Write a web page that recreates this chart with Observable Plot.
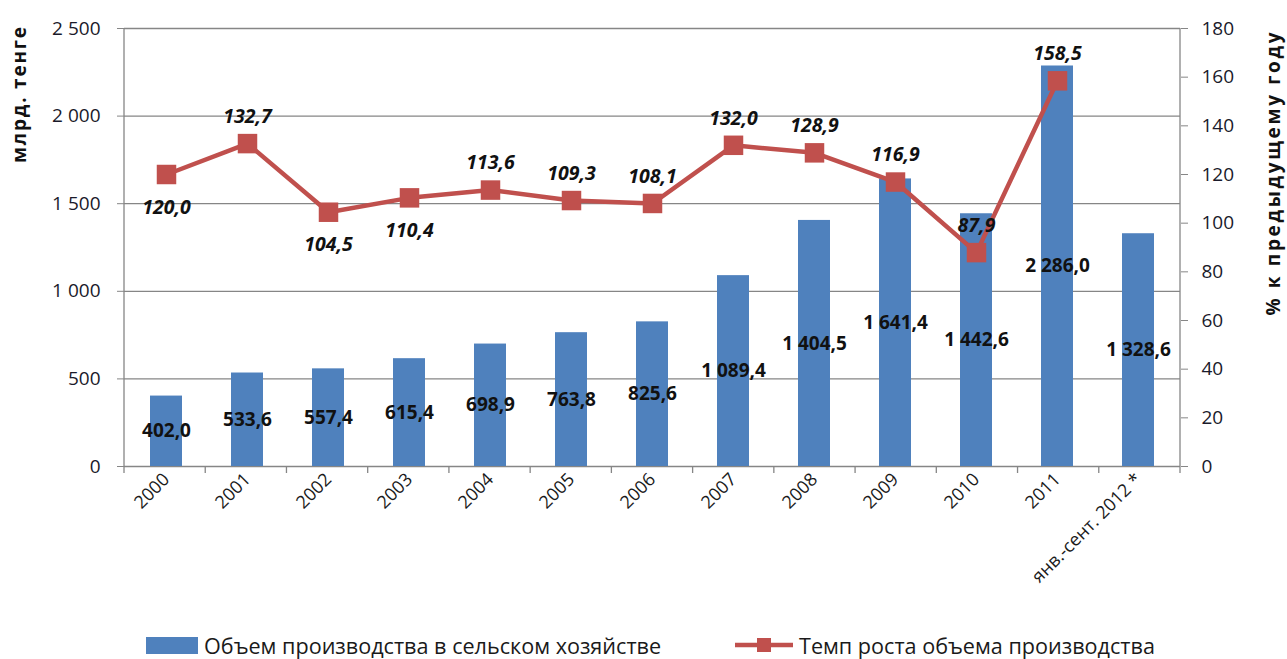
<!DOCTYPE html>
<html><head><meta charset="utf-8">
<script src="https://cdn.jsdelivr.net/npm/d3@7"></script>
<script src="https://cdn.jsdelivr.net/npm/@observablehq/plot@0.6"></script>
<style>
body{margin:0;background:#fff;font-family:"Open Sans",sans-serif;}
#wrap{position:relative;width:1287px;height:659px;}
#legend{position:absolute;left:0;top:630px;width:1287px;height:30px;font-size:21.6px;color:#1a1a1a;}
.li{position:absolute;top:0;display:flex;align-items:center;height:30px;white-space:nowrap;}
</style></head>
<body><div id="wrap"><div id="chart"></div><div id="legend"></div></div>
<script>
const categories = ["2000","2001","2002","2003","2004","2005","2006","2007","2008","2009","2010","2011","янв.-сент. 2012 *"];
const volume = [402.0, 533.6, 557.4, 615.4, 698.9, 763.8, 825.6, 1089.4, 1404.5, 1641.4, 1442.6, 2286.0, 1328.6];
const growth = [120.0, 132.7, 104.5, 110.4, 113.6, 109.3, 108.1, 132.0, 128.9, 116.9, 87.9, 158.5, null];
const growthLabelSide = ["below","above","below","below","above","above","above","above","above","above","above","above",null];
const leftTicks = [0, 500, 1000, 1500, 2000, 2500];
const rightTicks = [0, 20, 40, 60, 80, 100, 120, 140, 160, 180];
const seriesNames = ["Объем производства в сельском хозяйстве", "Темп роста объема производства"];
const leftTitle = "млрд. тенге";
const rightTitle = "% к предыдущему году";

const blue = "#4F81BD", red = "#C0504D", grid = "#868686";
const k = 2500 / 180;
const loc = d3.formatLocale({decimal: ",", thousands: " ", grouping: [3], currency: ["", ""]});
const fInt = loc.format(",d"), f1 = loc.format(",.1f");

const rows = categories.map((c, i) => ({cat: c, vol: volume[i], g: growth[i], side: growthLabelSide[i]}));
const lineRows = rows.filter(d => d.g != null);

const W = 1287, H = 627, mL = 124, mR = 107, mT = 28, mB = 161;

const frameMark = (index, scales, values, dim) => {
  const g = d3.create("svg:g").attr("stroke", grid).attr("stroke-width", 1.3).attr("fill", "none");
  const x0 = dim.marginLeft, x1 = dim.width - dim.marginRight;
  const y0 = dim.marginTop, y1 = dim.height - dim.marginBottom;
  g.append("line").attr("x1", x0).attr("x2", x0).attr("y1", y0).attr("y2", y1 + 7);
  g.append("line").attr("x1", x1).attr("x2", x1).attr("y1", y0).attr("y2", y1 + 7);
  const n = categories.length, step = (x1 - x0) / n;
  for (let i = 1; i < n; i++) {
    const x = x0 + i * step;
    g.append("line").attr("x1", x).attr("x2", x).attr("y1", y1).attr("y2", y1 + 7);
  }
  return g.node();
};

const titleMark = (index, scales, values, dim) => {
  const g = d3.create("svg:g").attr("font-weight", "bold").attr("font-size", 19).attr("fill", "#111").attr("text-anchor", "middle");
  const x0 = dim.marginLeft, x1 = dim.width - dim.marginRight;
  g.append("text").attr("transform", `translate(${x0 - 105},${dim.marginTop + 67}) rotate(-90)`)
    .attr("dy", "0.35em").attr("textLength", 136).attr("lengthAdjust", "spacing").text(leftTitle);
  g.append("text").attr("transform", `translate(${x1 + 93},${dim.marginTop + 146}) rotate(-90)`)
    .attr("dy", "0.35em").attr("textLength", 283).attr("lengthAdjust", "spacing").text(rightTitle);
  return g.node();
};

const chart = Plot.plot({
  width: W, height: H,
  marginLeft: mL, marginRight: mR, marginTop: mT, marginBottom: mB,
  style: {fontFamily: "'Open Sans', sans-serif", background: "#fff"},
  x: {domain: categories, paddingInner: 0.6, paddingOuter: 0.3, label: null},
  y: {domain: [0, 2500], label: null},
  marks: [
    Plot.ruleY(leftTicks, {stroke: grid, strokeWidth: 1.3}),
    Plot.barY(rows, {x: "cat", y: "vol", fill: blue}),
    frameMark,
    Plot.axisY(leftTicks, {anchor: "left", tickSize: 7, tickPadding: 17, tickFormat: fInt, stroke: grid, fill: "#1a1a2a", fontSize: 19, label: null}),
    Plot.axisY(rightTicks.map(v => v * k), {anchor: "right", tickSize: 7, tickPadding: 14, tickFormat: d => fInt(Math.round(d / k)), stroke: grid, fill: "#1a1a2a", fontSize: 19, label: null}),
    Plot.axisX({tickSize: 0, tickRotate: -45, tickPadding: 10, fontSize: 18, fill: "#1a1a1a", label: null}),
    Plot.text(rows, {x: "cat", y: d => d.vol / 2, text: d => f1(d.vol), fontSize: 19, fontWeight: "bold", fill: "#111"}),
    Plot.line(lineRows, {x: "cat", y: d => d.g * k, stroke: red, strokeWidth: 4.5}),
    Plot.dot(lineRows, {x: "cat", y: d => d.g * k, symbol: "square", r: 11, fill: red, stroke: "none"}),
    Plot.text(lineRows, {x: "cat", y: d => d.g * k, text: d => f1(d.g), fontSize: 19.5, fontWeight: "bold", fontStyle: "italic", fill: "#111",
      filter: d => d.side === "above", dy: -27}),
    Plot.text(lineRows, {x: "cat", y: d => d.g * k, text: d => f1(d.g), fontSize: 19.5, fontWeight: "bold", fontStyle: "italic", fill: "#111",
      filter: d => d.side === "below", dy: 33}),
    titleMark
  ]
});
document.getElementById("chart").appendChild(chart);

const legend = d3.select("#legend");
const a = legend.append("div").attr("class", "li").style("left", "146px");
a.append("span").style("display", "inline-block").style("width", "52px").style("height", "17px").style("background", blue).style("margin-right", "6px");
a.append("span").text(seriesNames[0]);
const b = legend.append("div").attr("class", "li").style("left", "735px");
const sw = b.append("svg").attr("width", 60).attr("height", 20).style("margin-right", "4px");
sw.append("line").attr("x1", 0).attr("x2", 58).attr("y1", 10).attr("y2", 10).attr("stroke", red).attr("stroke-width", 4.5);
sw.append("rect").attr("x", 22).attr("y", 3).attr("width", 14).attr("height", 14).attr("fill", red);
b.append("span").text(seriesNames[1]);
</script></body></html>
